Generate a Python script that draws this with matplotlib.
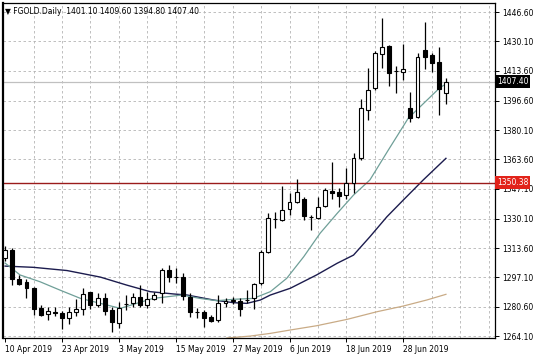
import matplotlib
matplotlib.use("Agg")
import matplotlib.pyplot as plt
import matplotlib.transforms as mtransforms
import numpy as np

# daily bars, 10 Apr 2019 onwards
opens = [1308.0, 1312.6, 1296.4, 1294.7, 1291.0, 1279.7, 1276.3, 1277.8, 1277.2, 1274.1,
         1277.5, 1279.1, 1288.7, 1281.6, 1285.3, 1278.7, 1271.6, 1282.0, 1282.5, 1285.9,
         1281.6, 1285.2, 1288.2, 1301.3, 1297.5, 1297.5, 1286.2, 1277.8, 1277.5, 1275.0,
         1273.1, 1282.9, 1284.0, 1284.0, 1284.3, 1285.3, 1293.8, 1311.6, 1330.0, 1329.5,
         1335.5, 1339.4, 1341.3, 1331.4, 1330.4, 1337.3, 1346.0, 1345.4, 1343.5, 1350.5,
         1364.2, 1391.4, 1403.7, 1423.0, 1427.5, 1413.4, 1412.8, 1392.4, 1387.3, 1425.2,
         1422.2, 1418.6, 1401.1]
highs = [1314.8, 1313.5, 1298.5, 1296.0, 1291.9, 1281.6, 1280.6, 1280.3, 1278.4, 1280.6,
         1284.8, 1291.0, 1289.1, 1288.2, 1288.2, 1280.6, 1283.4, 1287.2, 1288.2, 1292.8,
         1289.1, 1289.1, 1302.2, 1304.1, 1302.2, 1299.4, 1288.2, 1279.7, 1278.7, 1275.9,
         1287.2, 1285.3, 1286.2, 1285.3, 1290.0, 1294.1, 1312.6, 1333.2, 1334.1, 1348.6,
         1344.5, 1352.6, 1342.5, 1332.3, 1342.6, 1347.3, 1362.3, 1347.3, 1358.6, 1367.2,
         1397.5, 1414.9, 1424.8, 1443.1, 1428.1, 1416.3, 1428.4, 1401.7, 1423.7, 1441.0,
         1423.7, 1426.8, 1409.6]
lows = [1306.4, 1292.8, 1292.8, 1285.3, 1275.9, 1275.4, 1273.1, 1275.4, 1268.0, 1270.9,
        1275.4, 1275.9, 1279.1, 1280.6, 1275.9, 1266.5, 1268.4, 1278.7, 1280.6, 1280.6,
        1279.7, 1284.4, 1282.5, 1294.7, 1293.8, 1284.4, 1275.0, 1274.1, 1269.0, 1272.2,
        1272.2, 1280.6, 1282.1, 1275.4, 1282.5, 1279.1, 1292.8, 1310.7, 1324.8, 1329.1,
        1332.3, 1338.9, 1329.5, 1323.8, 1329.9, 1336.6, 1341.1, 1337.0, 1341.1, 1344.5,
        1363.3, 1385.8, 1402.7, 1414.9, 1405.0, 1401.2, 1408.3, 1384.8, 1386.8, 1414.4,
        1412.8, 1388.4, 1394.8]
closes = [1312.6, 1296.0, 1293.4, 1291.0, 1279.1, 1275.9, 1278.2, 1276.9, 1274.1, 1277.8,
          1279.3, 1287.8, 1281.6, 1285.3, 1278.2, 1271.8, 1279.7, 1282.2, 1285.9, 1281.6,
          1284.9, 1287.0, 1301.3, 1297.5, 1297.3, 1286.6, 1277.8, 1277.6, 1274.1, 1272.7,
          1282.9, 1284.0, 1284.1, 1279.1, 1284.4, 1293.4, 1311.6, 1330.4, 1329.8, 1335.1,
          1339.4, 1345.4, 1331.9, 1331.2, 1337.0, 1346.4, 1344.5, 1343.1, 1350.5, 1364.2,
          1392.4, 1402.7, 1423.4, 1426.8, 1412.4, 1413.2, 1414.4, 1386.8, 1421.5, 1421.5,
          1418.1, 1403.1, 1407.4]

# moving averages (bar position, price)
fast_pos = [0, 2.1, 4.9, 7.7, 10.6, 13.4, 16.2, 20.8, 24.9, 27.4, 29.8, 32.1, 34.9,
            37.3, 39.6, 42.0, 44.3, 46.7, 49.0, 51.3, 53.9, 56.7, 61.2, 62]
fast_val = [1305.2, 1298.5, 1294.7, 1290.0, 1285.3, 1282.5, 1279.7, 1285.3, 1287.2, 1285.3,
            1284.0, 1284.8, 1285.3, 1289.1, 1296.6, 1308.8, 1322.0, 1333.2, 1343.5, 1352.0,
            1368.9, 1386.8, 1404.2, 1406.0]
slow_pos = [0, 4.0, 8.7, 13.4, 17.1, 20.4, 23.7, 25.6, 29.3, 32.1, 34.0, 35.9, 37.3,
            40.1, 43.8, 46.7, 49.0, 51.3, 53.7, 56.0, 58.8, 62]
slow_val = [1303.5, 1302.8, 1301.0, 1297.3, 1292.8, 1289.1, 1287.8, 1287.2, 1284.4, 1282.9,
            1282.5, 1284.4, 1287.2, 1291.0, 1298.5, 1305.1, 1309.7, 1320.0, 1331.3, 1340.7,
            1352.0, 1364.2]
long_pos = [31.2, 34.5, 37.3, 40.1, 43.8, 48.1, 52.3, 56.0, 59.3, 62]
long_val = [1263.0, 1264.1, 1265.6, 1267.5, 1269.9, 1273.5, 1277.8, 1281.0, 1284.4, 1287.6]

level = 1350.38
price_ticks = [1264.10, 1280.60, 1297.10, 1313.60, 1330.10, 1347.10, 1363.60,
               1380.10, 1396.60, 1413.60, 1430.10, 1446.60]
date_pos = [0, 8, 16, 24, 32, 40, 48, 56]
date_labels = ['10 Apr 2019', '23 Apr 2019', '3 May 2019', '15 May 2019',
               '27 May 2019', '6 Jun 2019', '18 Jun 2019', '28 Jun 2019']

fs = 5.5
fig = plt.figure(figsize=(5.36, 3.57), dpi=100, facecolor='w')
ax = fig.add_axes([3 / 536, 19 / 357, 492 / 536, 335 / 357])

x = np.arange(len(opens))
o = np.array(opens)
c = np.array(closes)
up = c >= o

# wicks then bodies
ax.vlines(x, lows, highs, color='black', linewidth=0.9, zorder=3)
bottom = np.minimum(o, c)
height = np.maximum(np.abs(c - o), 0.15)
ax.bar(x[up], height[up], bottom=bottom[up], width=0.55, color='white',
       edgecolor='black', linewidth=0.8, zorder=4)
ax.bar(x[~up], height[~up], bottom=bottom[~up], width=0.55, color='black',
       edgecolor='black', linewidth=0.8, zorder=4)

ax.plot(long_pos, long_val, color='#c9ab86', linewidth=0.9, zorder=2)
ax.plot(slow_pos, slow_val, color='#1c1c4e', linewidth=1.0, zorder=2)
ax.plot(fast_pos, fast_val, color='#6f9f98', linewidth=0.9, zorder=2)

ax.axhline(level, color='#9b1b1b', linewidth=1.0, zorder=2)
ax.axhline(closes[-1], color='#c0c0c0', linewidth=0.9, zorder=1)

ax.set_xlim(-0.3, 68.9)
ax.set_ylim(1263.0, 1451.7)

# grid
for g in range(4, 69, 4):
    ax.axvline(g, color='#b4b4b4', linewidth=0.6, linestyle=(0, (3, 3)), zorder=0)
for t in price_ticks:
    ax.axhline(t, color='#b4b4b4', linewidth=0.6, linestyle=(0, (3, 3)), zorder=0)

ax.yaxis.tick_right()
ax.set_yticks(price_ticks)
ax.set_yticklabels(['%.2f' % t for t in price_ticks])
ax.set_xticks(date_pos)
ax.set_xticklabels(date_labels, ha='left')
ax.tick_params(axis='both', labelsize=fs, length=3, width=0.7, pad=2, colors='black')

for s in ax.spines.values():
    s.set_color('black')
    s.set_linewidth(0.9)
ax.spines['left'].set_linewidth(1.6)

trans = mtransforms.blended_transform_factory(ax.transAxes, ax.transData)
ax.text(1.004, level, '%.2f' % level, transform=trans, fontsize=fs, color='white',
        va='center', ha='left', clip_on=False, zorder=10,
        bbox=dict(boxstyle='square,pad=0.25', facecolor='#e2231a', edgecolor='none'))
ax.text(1.004, closes[-1], '%.2f' % closes[-1], transform=trans, fontsize=fs, color='white',
        va='center', ha='left', clip_on=False, zorder=10,
        bbox=dict(boxstyle='square,pad=0.25', facecolor='black', edgecolor='none'))

ax.text(0.004, 0.988, '\u25bc FGOLD.Daily  %.2f %.2f %.2f %.2f' % (opens[-1], highs[-1], lows[-1], closes[-1]),
        transform=ax.transAxes, fontsize=fs, va='top', ha='left', color='black', zorder=10)

fig.savefig('out.png', dpi=100, facecolor='w')
plt.close(fig)
